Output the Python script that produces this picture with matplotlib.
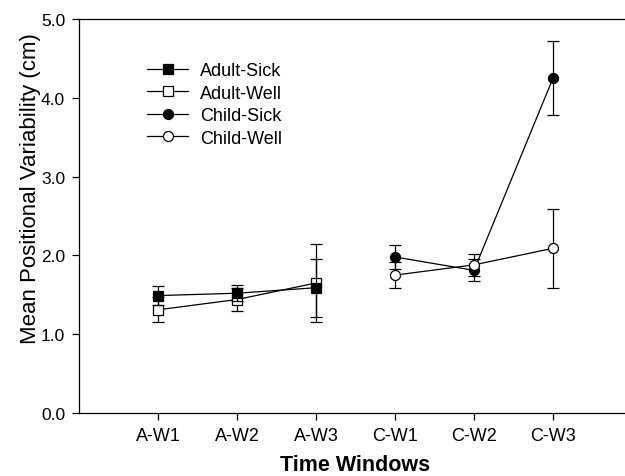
import numpy as np
import matplotlib.pyplot as plt

plt.rcParams['font.family'] = ['Liberation Sans', 'DejaVu Sans']

windows = ['A-W1', 'A-W2', 'A-W3', 'C-W1', 'C-W2', 'C-W3']

# adult groups only measured in the A windows, child groups in the C windows
adult_sick = [1.49, 1.52, 1.59]
adult_sick_err = [0.12, 0.10, 0.37]
adult_well = [1.31, 1.44, 1.65]
adult_well_err = [0.16, 0.15, 0.49]
child_sick = [1.98, 1.81, 4.25]
child_sick_err = [0.15, 0.14, 0.47]
child_well = [1.75, 1.88, 2.09]
child_well_err = [0.16, 0.14, 0.50]

x = np.arange(1, len(windows) + 1)
xa, xc = x[:3], x[3:]

fig = plt.figure(figsize=(6.25, 4.77), dpi=100)
ax = fig.add_axes([79 / 625, 63 / 477, 553 / 625, 394 / 477])

style = dict(color='black', lw=0.9, elinewidth=0.9, capsize=4.2, capthick=0.9,
             markeredgecolor='black', markeredgewidth=0.9)
groups = [
    (xa, adult_sick, adult_sick_err, 's', 'black', 'Adult-Sick', 4),
    (xa, adult_well, adult_well_err, 's', 'white', 'Adult-Well', 3),
    (xc, child_sick, child_sick_err, 'o', 'black', 'Child-Sick', 3),
    (xc, child_well, child_well_err, 'o', 'white', 'Child-Well', 4),
]
handles = []
for gx, gy, gerr, mk, fc, name, z in groups:
    cont = ax.errorbar(gx, gy, yerr=gerr, marker=mk, ms=7.2, mfc=fc,
                       label=name, zorder=z, **style)
    handles.append(cont[0])

ax.set_xlim(0, 7)
ax.set_ylim(0, 5)
ax.set_xticks(x)
ax.set_xticklabels(windows, fontsize=13)
ax.set_yticks(np.arange(0, 6))
ax.set_yticklabels([f'{v:.1f}' for v in range(6)], fontsize=12.5)
ax.tick_params(direction='out', length=5, width=0.9, pad=5)
for s in ax.spines.values():
    s.set_linewidth(0.9)
ax.spines['right'].set_visible(False)

ax.set_xlabel('Time Windows', fontsize=15.5, fontweight='bold', labelpad=7)
ax.set_ylabel('Mean Positional Variability (cm)', fontsize=16)
ax.yaxis.set_label_coords(-0.069, 0.571)

ax.legend(handles, [g[5] for g in groups], loc='upper left',
          bbox_to_anchor=(0.123, 0.89), frameon=False, fontsize=13,
          numpoints=1, handlelength=2.27, handletextpad=0.66,
          labelspacing=0.3, borderpad=0, borderaxespad=0)

fig.savefig('out.png', dpi=100)
